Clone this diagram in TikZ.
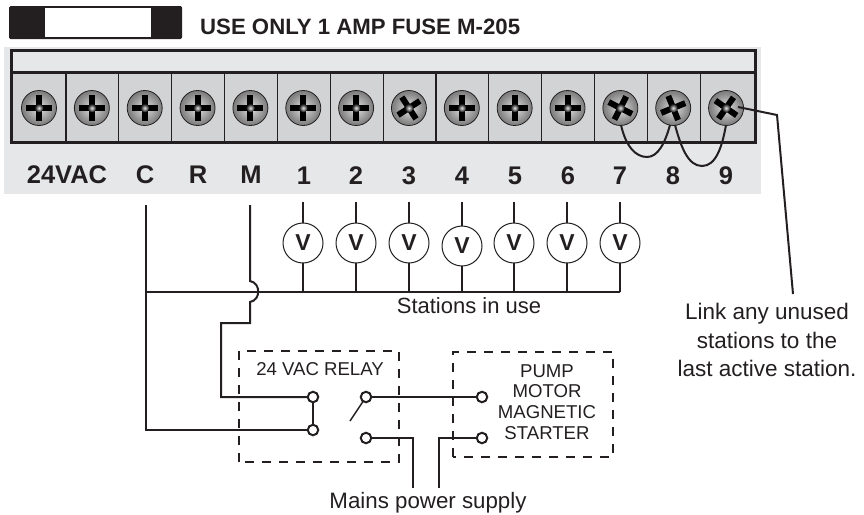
\documentclass[tikz,border=0pt]{standalone}
\usepackage{fontspec}
\setmainfont{Liberation Sans}
\usetikzlibrary{fadings}
\tikzfading[name=glow, inner color=transparent!0, outer color=transparent!100]
\definecolor{ink}{HTML}{231F20}
\definecolor{panel}{HTML}{E6E7E8}
\definecolor{term}{HTML}{D1D3D4}
\pgfdeclareradialshading{screwshade}{\pgfpoint{0bp}{0bp}}{
  color(0bp)=(white); color(8bp)=(black!25); color(22bp)=(black!48); color(38bp)=(black!62); color(50bp)=(black!80)}
\tikzset{
  wire/.style={draw=ink,line width=2pt,line join=miter},
  thinwire/.style={draw=ink,line width=1.5pt},
  contact/.style={circle,draw=ink,line width=2pt,fill=white,minimum size=10.5pt,inner sep=0pt},
  valve/.style={circle,draw=ink,line width=1pt,fill=white,minimum size=40pt,inner sep=0pt,font=\fontsize{23}{24}\selectfont\bfseries,text=ink},
  screw/.style={circle,draw=ink,line width=0.8pt,minimum size=35pt,inner sep=0pt,shading=screwshade},
  termlabel/.style={font=\fontsize{25.5}{28}\selectfont\bfseries,text=ink,inner sep=0pt},
  dashbox/.style={draw=ink,line width=1.7pt,dash pattern=on 9pt off 8pt},
  plain/.style={text=ink,inner sep=0pt,align=center},
}
\begin{document}
\begin{tikzpicture}[x=1pt,y=-1pt]
\useasboundingbox (0,0) rectangle (864,514);
% fuse
\fill[ink,rounded corners=1.5pt] (9,6) rectangle (182,39);
\fill[white] (45,8) rectangle (151,37);
\node[plain,anchor=west,font=\fontsize{22.2}{24}\selectfont\bfseries] (fuse) at (200,27) {USE ONLY 1 AMP FUSE M-205};
% panel
\fill[panel] (4,47) rectangle (761,194);
\fill[term] (11,72) rectangle (755,142);
\foreach \k in {0,...,12}{
  \pgfmathsetmacro{\dx}{66+52.85*\k}
  \draw[ink,line width=1.2pt] (\dx,72) -- (\dx,142);
}
\draw[ink,line width=3pt] (11,72) -- (755,72);
\draw[ink,line width=3pt] (11,50) rectangle (755,142);
% screws
\foreach \k/\a in {0/0,1/0,2/0,3/0,4/0,5/0,6/0,7/-33,8/0,9/0,10/0,11/27,12/-22,13/35}{
  \pgfmathsetmacro{\sx}{39+52.85*\k}
  \pgfmathsetmacro{\b}{\a+180}
  \pgfmathsetmacro{\c}{\a+90}
  \pgfmathsetmacro{\d}{\a+270}
  \node[screw] (s\k) at (\sx,108) {};
  \begin{scope}[shift={(\sx,108)}]
    \draw[black,line width=6pt] (\a:13) -- (\b:13);
    \draw[black,line width=6pt] (\c:13) -- (\d:13);
    \fill[white,path fading=glow,opacity=.9] (0,0) circle (4.5);
  \end{scope}
}
% terminal labels
\node[termlabel] (l24) at (67,175) {24VAC};
\node[termlabel] (lC) at (145,175) {C};
\node[termlabel] (lR) at (198,175) {R};
\node[termlabel] (lM) at (251,175) {M};
\foreach \n/\x in {1/304,2/356,3/409,4/462,5/515,6/568,7/620,8/673,9/726}{
  \node[termlabel,anchor=base] (n\n) at (\x,184) {\n};
}
% jumpers
\draw[wire] (621,125) .. controls (626,147) and (636,157) .. (647,157) .. controls (658,157) and (665,143) .. (670,125);
\draw[wire] (675,125) .. controls (681,147) and (688,166) .. (702,166) .. controls (716,166) and (722,147) .. (726,125);
% leader
\coordinate (leadA) at (738,107);
\coordinate (leadB) at (777,115);
\coordinate (leadC) at (793,294);
\draw[wire] (leadA) -- (leadB) -- (leadC);
% bus
\coordinate (busL) at (146,292);
\coordinate (busR) at (620,292);
\draw[thinwire] (busL) -- (busR);
% valves
\foreach \i/\x/\y in {1/303/243,2/356/243,3/409/243,4/462/246,5/514/243,6/567/243,7/620/243}{
  \coordinate (vt\i) at (\x,202);
  \coordinate (vb\i) at (\x,292);
  \draw[wire] (vt\i) -- (vb\i);
  \node[valve] (v\i) at (\x,\y) {V};
}
% relay boxes
\draw[dashbox] (239,462) -- (239,351) -- (399,351) -- (399,462) -- cycle;
\draw[dashbox] (453,457) -- (453,352) -- (613,352) -- (613,457) -- cycle;
\node[plain,font=\fontsize{18.6}{20}\selectfont] (relay) at (320,369) {24 VAC RELAY};
\node[plain,font=\fontsize{18.6}{20.7}\selectfont] (pump) at (547,402) {PUMP\\MOTOR\\MAGNETIC\\STARTER};
% contacts
\coordinate (p1) at (313,397);
\coordinate (p2) at (313,430);
\coordinate (p3) at (366,397);
\coordinate (p4) at (366,438);
\coordinate (p5) at (482,397);
\coordinate (p6) at (482,438);
\coordinate (cTop) at (146,205);
\coordinate (mTop) at (250,205);
\coordinate (hopA) at (250,281);
\coordinate (hopB) at (250,302);
\coordinate (sw) at (350,421);
\coordinate (mainsL) at (413,488);
\coordinate (mainsR) at (439,488);
\draw[wire] (cTop) |- (p2);
\draw[wire] (mTop) -- (hopA) .. controls (261,283) and (261,300) .. (hopB) -- (250,323) -- (221,323) -- (221,397) -- (p1);
\draw[wire] (p1) -- (p2);
\draw[thinwire] (p3) -- (sw);
\draw[wire] (p3) -- (p5);
\draw[wire] (p4) -| (mainsL);
\draw[wire] (p6) -| (mainsR);
\node[contact] (c1) at (p1) {};
\node[contact] (c2) at (p2) {};
\node[contact] (c3) at (p3) {};
\node[contact] (c4) at (p4) {};
\node[contact] (c5) at (p5) {};
\node[contact] (c6) at (p6) {};
% captions
\node[plain,font=\fontsize{22}{24}\selectfont] (st) at (469,306) {Stations in use};
\node[plain,font=\fontsize{22.3}{24}\selectfont] (ms) at (428,503) {Mains power supply};
\node[plain,font=\fontsize{22.5}{28.5}\selectfont] (lk) at (767,340) {Link any unused\\stations to the\\last active station.};
\end{tikzpicture}
\end{document}
